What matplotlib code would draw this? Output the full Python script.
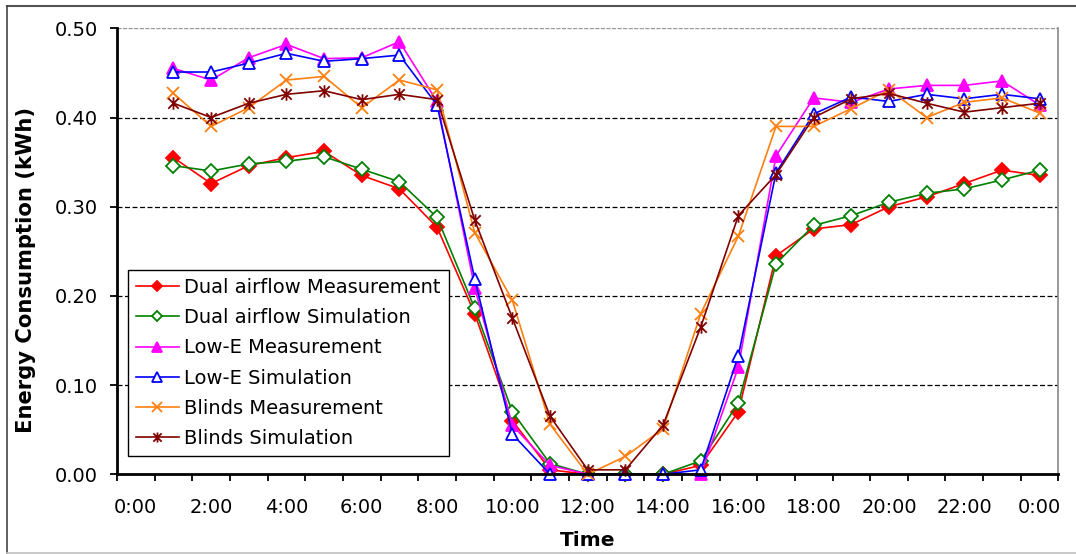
import numpy as np
import matplotlib
matplotlib.use("Agg")
import matplotlib.pyplot as plt
from matplotlib.path import Path
from matplotlib.lines import Line2D

# hourly values, 1:00 .. 24:00 (kWh)
hours = list(range(1, 25))
dual_meas = [0.355, 0.326, 0.346, 0.355, 0.362, 0.335, 0.320, 0.277, 0.180, 0.060, 0.005, 0.0,
             0.0, 0.0, 0.010, 0.070, 0.245, 0.275, 0.280, 0.300, 0.311, 0.326, 0.341, 0.335]
dual_sim = [0.346, 0.340, 0.348, 0.351, 0.356, 0.342, 0.328, 0.288, 0.186, 0.070, 0.012, 0.0,
            0.0, 0.0, 0.015, 0.080, 0.236, 0.279, 0.290, 0.305, 0.315, 0.320, 0.330, 0.341]
lowe_meas = [0.455, 0.442, 0.467, 0.482, 0.466, 0.467, 0.485, 0.418, 0.209, 0.055, 0.010, 0.0,
             0.0, 0.0, 0.0, 0.120, 0.357, 0.422, 0.417, 0.432, 0.436, 0.436, 0.441, 0.414]
lowe_sim = [0.451, 0.451, 0.461, 0.472, 0.463, 0.466, 0.470, 0.414, 0.219, 0.045, 0.0, 0.0,
            0.0, 0.0, 0.005, 0.133, 0.338, 0.404, 0.423, 0.418, 0.426, 0.421, 0.426, 0.421]
blinds_meas = [0.427, 0.390, 0.411, 0.442, 0.446, 0.411, 0.442, 0.431, 0.271, 0.195, 0.056, 0.0,
               0.020, 0.051, 0.180, 0.267, 0.390, 0.390, 0.410, 0.431, 0.400, 0.417, 0.422, 0.405]
blinds_sim = [0.416, 0.400, 0.416, 0.426, 0.430, 0.420, 0.426, 0.420, 0.285, 0.175, 0.065, 0.005,
              0.005, 0.055, 0.165, 0.290, 0.336, 0.400, 0.421, 0.427, 0.416, 0.406, 0.411, 0.416]

tick_pos = list(range(0, 25, 2))
tick_labels = ["0:00", "2:00", "4:00", "6:00", "8:00", "10:00", "12:00",
               "14:00", "16:00", "18:00", "20:00", "22:00", "0:00"]

# Excel-style star: an x with a vertical bar
star = Path([(-1, -1), (1, 1), (-1, 1), (1, -1), (0, -1.2), (0, 1.2)],
            [Path.MOVETO, Path.LINETO, Path.MOVETO, Path.LINETO, Path.MOVETO, Path.LINETO])

plt.rcParams["font.family"] = "DejaVu Sans"

fig = plt.figure(figsize=(10.76, 5.54), dpi=100)
ax = fig.add_axes([0.1087, 0.1439, 0.875, 0.805])

series = [
    (dual_meas, "Dual airflow Measurement", "#FF0000", "D", "#FF0000", 7),
    (dual_sim, "Dual airflow Simulation", "#008000", "D", "white", 7),
    (lowe_meas, "Low-E Measurement", "#FF00FF", "^", "#FF00FF", 8.5),
    (lowe_sim, "Low-E Simulation", "#0000FF", "^", "white", 8.5),
    (blinds_meas, "Blinds Measurement", "#FF7F0F", "x", "none", 9),
    (blinds_sim, "Blinds Simulation", "#800000", star, "none", 9),
]
for vals, name, col, mk, face, ms in series:
    ax.plot(hours, vals, color=col, lw=1.2, marker=mk, ms=ms, mfc=face,
            mec=col, mew=1.3, label=name, clip_on=False)

ax.set_xlim(-0.5, 24.5)
ax.set_ylim(0, 0.5)
ax.set_xticks(tick_pos)
ax.set_xticklabels(tick_labels, fontsize=14)
ax.set_xticks(np.arange(-0.5, 25, 1), minor=True)
ax.tick_params(axis="x", which="major", length=0, pad=17)
ax.tick_params(axis="x", which="minor", length=5, width=1.3, direction="out")
ax.set_yticks(np.arange(0, 0.51, 0.1))
ax.set_yticklabels([f"{v:.2f}" for v in np.arange(0, 0.51, 0.1)], fontsize=14)
ax.tick_params(axis="y", length=5, width=1.3, pad=9)

for v in [0.1, 0.2, 0.3, 0.4]:
    ax.axhline(v, color="black", lw=0.9, ls=(0, (4, 2)), zorder=0.5)
ax.axhline(0.5, color="#999999", lw=1.0, ls=(0, (3, 1)), zorder=0.5)

ax.spines["left"].set_linewidth(2)
ax.spines["bottom"].set_linewidth(2)
ax.spines["top"].set_visible(False)
ax.spines["right"].set_color("#888888")
ax.spines["right"].set_linewidth(1.2)

ax.set_xlabel("Time", fontsize=14.5, fontweight="bold", labelpad=10)
ax.set_ylabel("Energy Consumption (kWh)", fontsize=15.2, fontweight="bold")
ax.yaxis.set_label_coords(-0.0865, 0.458)

leg = ax.legend(loc="upper left", bbox_to_anchor=(0.0117, 0.458), borderaxespad=0,
                fontsize=14, fancybox=False, edgecolor="black", framealpha=1,
                handlelength=2.2, handletextpad=0.3, labelspacing=0.58,
                borderpad=0.4, markerscale=0.8)
leg.get_frame().set_linewidth(1.0)

# outer chart frame
fig.add_artist(Line2D([7 / 1076, 1.0], [1 - 6 / 554, 1 - 6 / 554], color="#555555", lw=1.5,
                      transform=fig.transFigure))
fig.add_artist(Line2D([7 / 1076, 7 / 1076], [1 - 6 / 554, 1 - 553 / 554], color="#444444", lw=1.2,
                      transform=fig.transFigure))
fig.add_artist(Line2D([7 / 1076, 1.0], [1 - 553 / 554, 1 - 553 / 554], color="#c0c0c0", lw=1.2,
                      transform=fig.transFigure))

fig.savefig("out.png", dpi=100)
